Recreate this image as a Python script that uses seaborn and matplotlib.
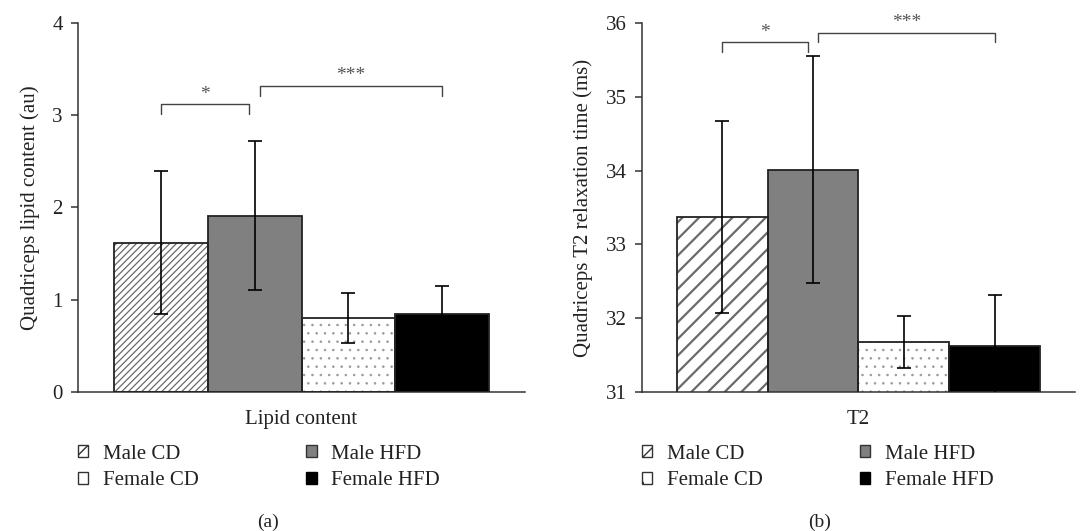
import matplotlib
matplotlib.use("Agg")
import matplotlib.pyplot as plt
import pandas as pd
import seaborn as sns
from matplotlib.patches import Patch, Rectangle

# ---- data ----
groups = ["Male CD", "Male HFD", "Female CD", "Female HFD"]
lipid_mean = [1.62, 1.91, 0.80, 0.85]
lipid_err = [0.78, 0.81, 0.27, 0.30]
t2_mean = [33.37, 34.01, 31.68, 31.62]
t2_err = [1.30, 1.54, 0.35, 0.70]
lipid_ticks = [0, 1, 2, 3, 4]
t2_ticks = [31, 32, 33, 34, 35, 36]

# significance brackets: (bar i, bar j, bottom, top, label)
lipid_sig = [(0, 1, 3.01, 3.12, "*"), (1, 3, 3.21, 3.32, "***")]
t2_sig = [(0, 1, 35.61, 35.74, "*"), (1, 3, 35.74, 35.87, "***")]

sns.set_theme(style="white")
plt.rcParams["font.family"] = ["Liberation Serif", "DejaVu Serif"]

faces = ["white", "#808080", "white", "black"]
edge = "#222222"
FS = 15


def panel(ax, category, means, errs, ticks, ylabel, sig, hatch_line, hatch_lw, col_space):
    df = pd.DataFrame({"cat": category, "group": groups, "value": means})
    sns.barplot(data=df, x="cat", y="value", hue="group", hue_order=groups,
                palette=faces, width=0.84, errorbar=None, legend=False,
                saturation=1, ax=ax, zorder=2)
    hatches = [(hatch_line, "#6a6a6a", hatch_lw), None, ("..", "#9a9a9a", 0.6), None]
    centers = []
    for p, h in zip(ax.patches[:4], hatches):
        p.set_linewidth(0)
        if h:
            p.set_edgecolor(h[1])
            p.set_hatch(h[0])
            if hasattr(p, "set_hatch_linewidth"):
                p.set_hatch_linewidth(h[2])
            p.set_linewidth(0)
        ax.add_patch(Rectangle((p.get_x(), p.get_y()), p.get_width(), p.get_height(),
                               fill=False, edgecolor=edge, lw=1.3, zorder=3))
        centers.append(p.get_x() + p.get_width() / 2)
    ax.errorbar(centers, means, yerr=errs, fmt="none", ecolor="black",
                elinewidth=1.2, capsize=5, capthick=1.2, zorder=5)

    ax.set_ylim(ticks[0], ticks[-1])
    ax.set_yticks(ticks)
    ax.set_xlim(-0.5, 0.5)
    ax.set_xlabel("")
    ax.set_ylabel(ylabel, fontsize=FS, color="#222222", labelpad=9)
    ax.tick_params(axis="y", labelsize=FS, length=5, width=1.1, color="#333333",
                   pad=6, direction="out", left=True, labelcolor="#222222")
    ax.tick_params(axis="x", labelsize=FS, length=0, pad=13, labelcolor="#222222")
    sns.despine(ax=ax)
    for s in ["left", "bottom"]:
        ax.spines[s].set_color("#333333")
        ax.spines[s].set_linewidth(1.1)

    gap = 0.012
    for i, j, lo, hi, lab in sig:
        x0 = centers[i] + (gap if i == 1 else 0)
        x1 = centers[j] - (gap if j == 1 else 0)
        ax.plot([x0, x0, x1, x1], [lo, hi, hi, lo], color="#444444", lw=1.0,
                zorder=4, clip_on=False)
        ax.text((x0 + x1) / 2, hi + (ticks[-1] - ticks[0]) * 0.004, lab,
                ha="center", va="bottom", fontsize=14, color="#555555")

    # legend fills rows: Male CD / Male HFD on top, Female CD / Female HFD below
    handles = {
        "Male CD": Patch(facecolor="white", edgecolor="#333333", hatch="/", lw=1.0),
        "Male HFD": Patch(facecolor="#808080", edgecolor="#333333", lw=1.0),
        "Female CD": Patch(facecolor="white", edgecolor="#333333", hatch=".", lw=1.0),
        "Female HFD": Patch(facecolor="black", edgecolor="black", lw=1.0),
    }
    order = ["Male CD", "Female CD", "Male HFD", "Female HFD"]
    ax.legend([handles[k] for k in order], order, ncol=2, loc="upper left",
              bbox_to_anchor=(0.0, -0.143), frameon=False, fontsize=FS,
              handlelength=0.5, handleheight=0.5, handletextpad=0.7,
              labelspacing=0.35, columnspacing=col_space, borderpad=0,
              borderaxespad=0, labelcolor="#222222")


fig = plt.figure(figsize=(10.81, 5.31), dpi=100)
ax_a = fig.add_axes([0.0722, 0.2618, 0.4135, 0.695])
ax_b = fig.add_axes([0.5939, 0.2618, 0.4005, 0.695])

panel(ax_a, "Lipid content", lipid_mean, lipid_err, lipid_ticks,
      "Quadriceps lipid content (au)", lipid_sig, "/////", 0.9, 5.15)
panel(ax_b, "T2", t2_mean, t2_err, t2_ticks,
      "Quadriceps T2 relaxation time (ms)", t2_sig, "//", 1.6, 4.65)

fig.text(0.248, 0.017, "(a)", ha="center", va="center", fontsize=14, color="#222222")
fig.text(0.758, 0.017, "(b)", ha="center", va="center", fontsize=14, color="#222222")

fig.savefig("out.png", dpi=100)
